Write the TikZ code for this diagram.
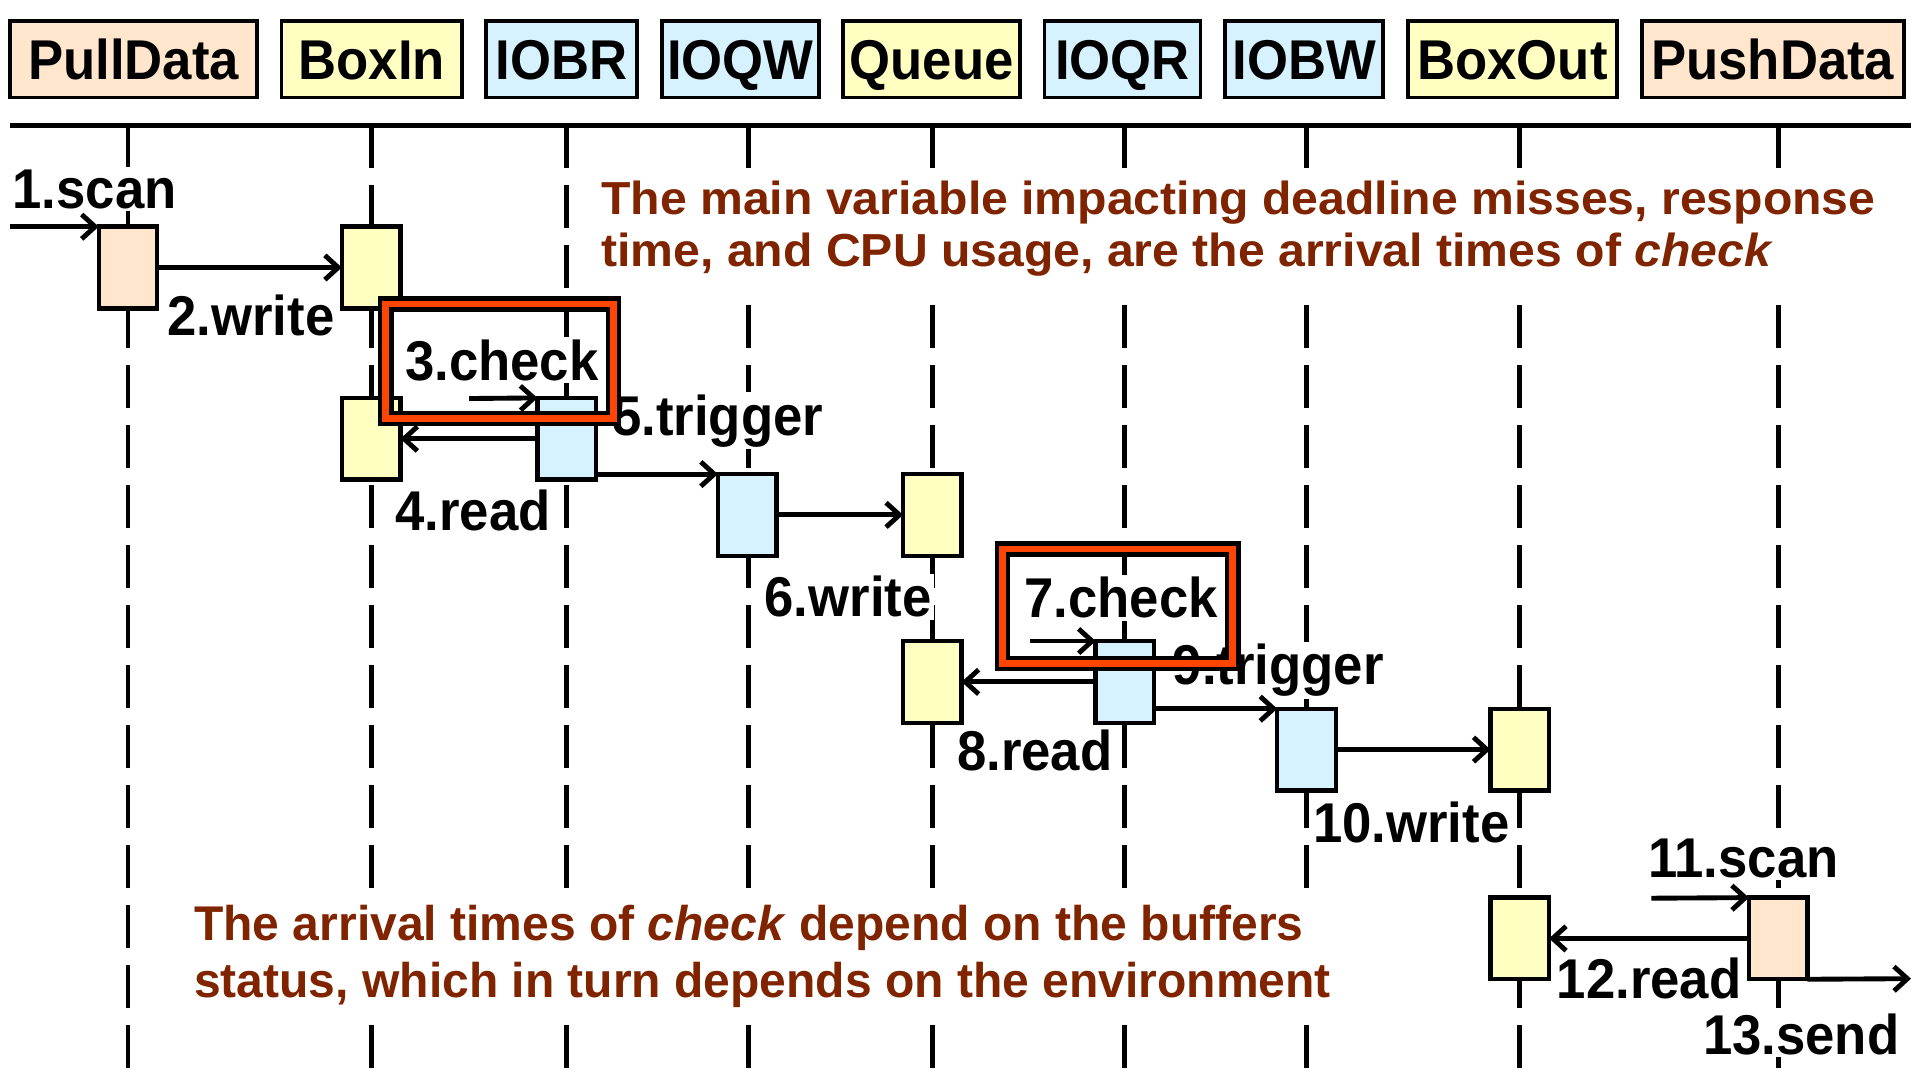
\documentclass[tikz,border=0pt]{standalone}
\usepackage{fontspec}
\setmainfont{Liberation Sans}[FakeStretch=0.94]
\newfontfamily\topnotefont{Liberation Sans}[FakeStretch=1.04]
\newfontfamily\lownotefont{Liberation Sans}[FakeStretch=0.985]
\usetikzlibrary{arrows.meta}
\definecolor{peach}{RGB}{255,230,204}
\definecolor{lemon}{RGB}{255,255,194}
\definecolor{sky}{RGB}{214,242,255}
\definecolor{alertred}{RGB}{255,69,0}
\definecolor{notered}{RGB}{128,36,0}
\begin{document}
\begin{tikzpicture}[x=0.5pt, y=-0.5pt, >={Straight Barb[length=5.5pt,width=10pt]},
		head/.style={draw, line width=1.6pt, minimum height=31.5pt, inner sep=0pt, text height=16.5pt, text depth=0pt, font=\fontsize{23}{27}\selectfont\bfseries},
		act/.style={draw, line width=1.8pt, minimum width=24pt, minimum height=33.5pt, inner sep=0pt, outer sep=0pt},
		msg/.style={anchor=base west, fill=white, inner sep=1pt, font=\fontsize{23}{27}\selectfont\bfseries},
		call/.style={->, line width=2pt},
		life/.style={line width=2pt, dash pattern=on 17.5pt off 7.1pt},
		checkframe/.style={draw, line width=1.8pt, double=alertred, double distance=2.8pt, inner sep=0pt},
		remark/.style={anchor=north west, align=left, fill=white, inner sep=5pt, text=notered}]
	\useasboundingbox (0,0) rectangle (1568,881);
	\foreach \n/\t/\x/\w/\c in {pull/PullData/109.5/203/peach, boxin/BoxIn/305/148/lemon, iobr/IOBR/461/124/sky,
			ioqw/IOQW/607.5/129/sky, queue/Queue/764.5/145/lemon, ioqr/IOQR/921/128/sky,
			iobw/IOBW/1070/130/sky, boxout/BoxOut/1241/172/lemon, push/PushData/1454.5/215/peach} {
			\node[head, fill=\c, minimum width=\w*0.5pt] (\n) at (\x,48.5) {\t};
		}
	\draw[line width=2pt] (8,103) -- (1568,103);
	\foreach \x in {105,305,465,614,765,923,1072,1247,1459} {
			\draw[life] (\x,103) -- (\x,881);
		}
	\node[remark, font=\fontsize{19}{21.5}\topnotefont\bfseries] (mainvar) at (483,138) {The main variable impacting deadline misses, response\\time, and CPU usage, are the arrival times of \textit{check}};
	\node[remark, font=\fontsize{20}{23.5}\lownotefont\bfseries] (arrival) at (149,732) {The arrival times of \textit{check} depend on the buffers\\status, which in turn depends on the environment};
	\foreach \n/\x/\y/\c in {pd1/105/219.5/peach, bi1/304.5/219.5/lemon, bi2/304.5/360/lemon, iobr1/465/360/sky,
			ioqw1/613/422.5/sky, qu1/765/422.5/lemon, qu2/765/559.5/lemon, ioqr1/923/559.5/sky,
			iobw1/1072/615/sky, bo1/1247/615/lemon, bo2/1247/770/lemon, psh1/1459/770/peach} {
			\node[act, fill=\c] (\n) at (\x,\y) {};
		}
	\foreach \n/\x/\y/\t in {m1/8/171/1.scan, m2/135/275/2.write, m3/330/312/3.check, m4/322/435/4.read,
			m5/500/357/5.trigger, m6/625/506/6.write, m7/838/507/7.check, m8/783/632/8.read,
			m9/960/562/9.trigger, m10/1075/691/10.write, m11/1350/720/11.scan, m12/1275/819/12.read,
			m13/1395/865/13.send} {
			\node[msg] (\n) at (\x,\y) {\t};
		}
	\coordinate (scanin) at (8,186);
	\coordinate (checkin) at (385,327);
	\coordinate (checkin2) at (845,526);
	\coordinate (scanin2) at (1355,737);
	\coordinate (sendout) at (1568,803);
	\draw[call] (scanin) -- (pd1.north west);
	\draw[call] (pd1.east) -- (bi1.west);
	\draw[call] (checkin) -- (iobr1.north west);
	\draw[call] (iobr1.west) -- (bi2.east);
	\draw[call] (ioqw1.north west -| iobr1.east) -- (ioqw1.north west);
	\draw[call] (ioqw1.east) -- (qu1.west);
	\draw[call] (checkin2) -- (ioqr1.north west);
	\draw[call] (ioqr1.west) -- (qu2.east);
	\draw[call] (iobw1.north west -| ioqr1.east) -- (iobw1.north west);
	\draw[call] (iobw1.east) -- (bo1.west);
	\draw[call] (scanin2) -- (psh1.north west);
	\draw[call] (psh1.west) -- (bo2.east);
	\draw[call] (psh1.south east) -- (sendout);
	\node[checkframe, minimum width=93.5pt, minimum height=47pt] (f3) at (410,296.5) {};
	\node[checkframe, minimum width=94.5pt, minimum height=47pt] (f7) at (917,497.5) {};
\end{tikzpicture}
\end{document}
